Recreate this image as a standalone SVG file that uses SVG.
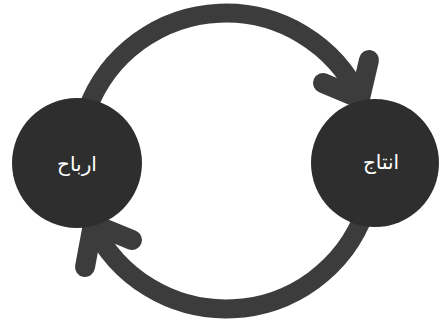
<svg xmlns="http://www.w3.org/2000/svg" width="444" height="327" viewBox="0 0 444 327">
<style>
.arc{fill:none;stroke:#3c3c3c;stroke-width:19;stroke-linecap:round}
.head{fill:none;stroke:#3c3c3c;stroke-width:20;stroke-linecap:round;stroke-linejoin:round}
.node{fill:#2e2e2e}
.lbl{fill:#ffffff;font-family:"DejaVu Sans","Noto Sans",sans-serif;font-size:20px;text-anchor:middle;dominant-baseline:central}
</style>
<rect width="444" height="327" fill="#ffffff"/>
<g id="connectors">
<path class="arc" d="M 86.9 110.4 A 148 148 0 0 1 360.1 98.5"/>
<path class="head" d="M 369 60 L 360 98.5 L 323 83"/>
<path class="arc" d="M 365.1 211.6 A 148 148 0 0 1 91.9 223.5"/>
<path class="head" d="M 85 267 L 93 224 L 132 240"/>
</g>
<g id="node-arbah">
<circle class="node" cx="77" cy="163" r="65"/>
<text class="lbl" x="77" y="164" direction="rtl">ارباح</text>
</g>
<g id="node-intaj">
<circle class="node" cx="375" cy="163" r="64"/>
<text class="lbl" x="381" y="162" direction="rtl">انتاج</text>
</g>
</svg>
